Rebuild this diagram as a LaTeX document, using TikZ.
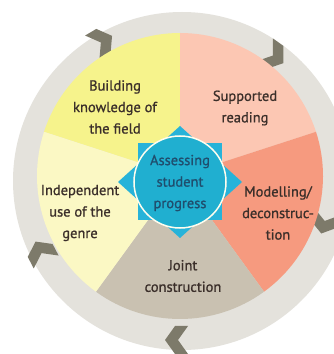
\documentclass[tikz,border=0pt]{standalone}
\usepackage{fontspec}
\setmainfont{PT Sans}[UprightFeatures={FakeBold=1}]
\definecolor{cyel}{HTML}{F6F38C}
\definecolor{ccream}{HTML}{FBF8C4}
\definecolor{cpink}{HTML}{FCC7B3}
\definecolor{csalmon}{HTML}{F69A7F}
\definecolor{cgrey}{HTML}{C9C1B1}
\definecolor{cring}{HTML}{E4E2DC}
\definecolor{cchev}{HTML}{7D7A6A}
\definecolor{cstar}{HTML}{27B3D9}
\definecolor{ccirc}{HTML}{20AFD0}
\definecolor{ctxt}{HTML}{3B2F2A}
\definecolor{cctxt}{HTML}{1F4E6E}
\tikzset{
  lbl/.style={align=center, text=ctxt, font=\fontsize{14.5}{21.5}\selectfont, inner sep=0pt},
  chev/.pic={\fill[cchev] (-9,14) -- (4,14) -- (14,0) -- (4,-14) -- (-9,-14) -- (1,0) -- cycle;}
}
\begin{document}
\begin{tikzpicture}[x=1pt,y=1pt]
\useasboundingbox (0,0) rectangle (333,354);
\fill[white] (0,0) rectangle (333,354);
% outer ring
\fill[cring] (182,173) circle (169);
% chevrons
\pic[rotate=30.7] at (100,311) {chev};
\pic[rotate=-35.5] at (272,299) {chev};
\pic[rotate=-105.3] at (325,134) {chev};
\pic[rotate=180] at (179,14) {chev};
\pic[rotate=117.5] at (42,100) {chev};
% pie
\coordinate (P) at (180,178);
\fill[cyel] (P) -- ++(90:143) arc[start angle=90,end angle=162,radius=143] -- cycle;
\fill[cpink] (P) -- ++(18:143) arc[start angle=18,end angle=90,radius=143] -- cycle;
\fill[csalmon] (P) -- ++(-54:143) arc[start angle=-54,end angle=18,radius=143] -- cycle;
\fill[cgrey] (P) -- ++(-126:143) arc[start angle=-126,end angle=-54,radius=143] -- cycle;
\fill[ccream] (P) -- ++(162:143) arc[start angle=162,end angle=234,radius=143] -- cycle;
% star
\fill[cstar] (180,228) -- (242,172) -- (180,116) -- (118,172) -- cycle;
\fill[cstar] (138,211) -- (222,211) -- (222,134) -- (138,134) -- cycle;
\fill[ccirc, draw=white!85!cyel, line width=1.5pt] (180,172) circle (46);
% labels
\node[lbl] (build) at (115,247) {Building\\knowledge of\\the field};
\node[lbl] (supp) at (245,246) {Supported\\reading};
\node[lbl] (model) at (278,141) {Modelling/\\deconstruc-\\tion};
\node[lbl] (joint) at (183,78) {Joint\\construction};
\node[lbl] (indep) at (80,141) {Independent\\use of the\\genre};
\node[lbl, text=cctxt] (assess) at (180,171) {Assessing\\student\\progress};
\end{tikzpicture}
\end{document}
